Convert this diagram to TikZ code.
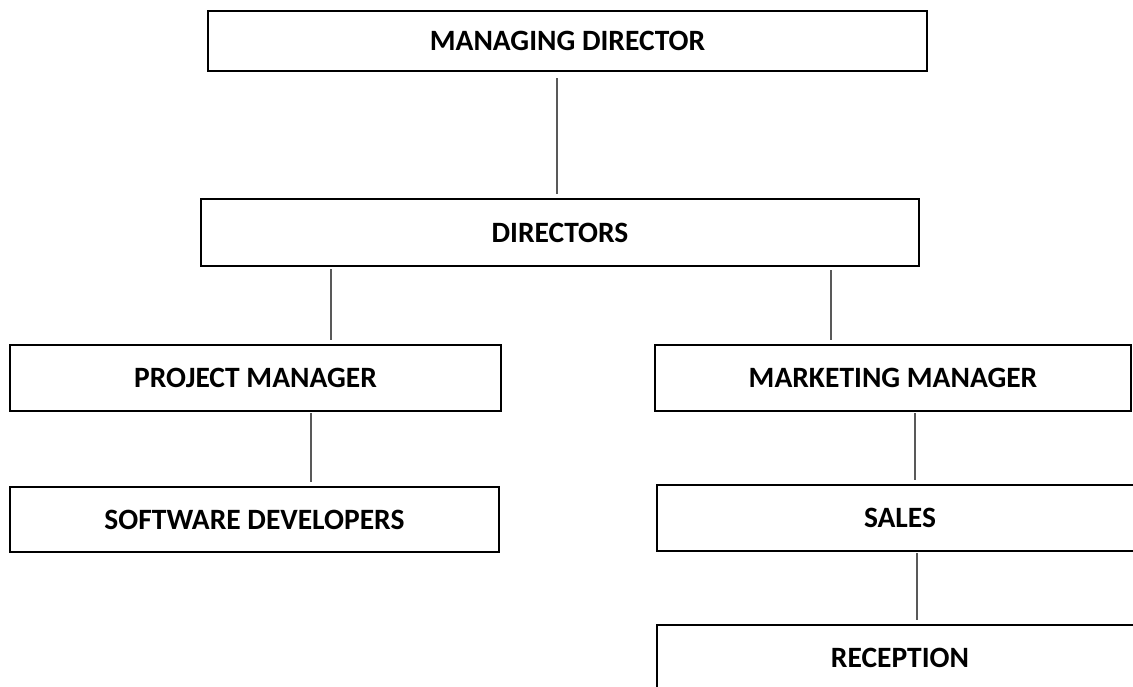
\documentclass[tikz,border=0pt]{standalone}
\usepackage{fontspec}
\setmainfont{Carlito}
\usetikzlibrary{calc}
\usetikzlibrary{positioning}
\definecolor{linkgray}{HTML}{595959}

\begin{document}
\begin{tikzpicture}[x=1pt, y=1pt,
  box/.style={draw=black, line width=2.2pt, fill=white, inner sep=0pt, font=\fontsize{29.5}{32}\selectfont\bfseries},
  link/.style={draw=linkgray, line width=1.4pt}]
\useasboundingbox (0,0) rectangle (1133,686);
\node (md) at (567.5,645) [box, minimum width=719pt, minimum height=60pt] {MANAGING DIRECTOR};
\node (dir) at (560,453.5) [box, minimum width=718pt, minimum height=67pt] {DIRECTORS};
\node (pm) at (255.5,308) [box, minimum width=491pt, minimum height=66pt] {PROJECT MANAGER};
\node (mm) at (893,308) [box, minimum width=476pt, minimum height=66pt] {MARKETING MANAGER};
\node (sd) at (254.5,166.5) [box, minimum width=489pt, minimum height=65pt] {SOFTWARE DEVELOPERS};
\node (sales) at (900,168) [box, minimum width=486pt, minimum height=66pt] {SALES};
\node (rec) at (900,28) [box, minimum width=486pt, minimum height=66pt] {RECEPTION};

\foreach \a/\b/\dx/\s in {md/dir/-10.5/6, dir/pm/-229/2, dir/mm/271/3, pm/sd/55.5/1, mm/sales/22/1, sales/rec/17/1} {
\draw[link, shorten <=\s pt, shorten >=4pt] ($(\a.south)+(\dx,0)$) -- ($(\a.south |- \b.north)+(\dx,0)$);
}
\end{tikzpicture}
\end{document}
